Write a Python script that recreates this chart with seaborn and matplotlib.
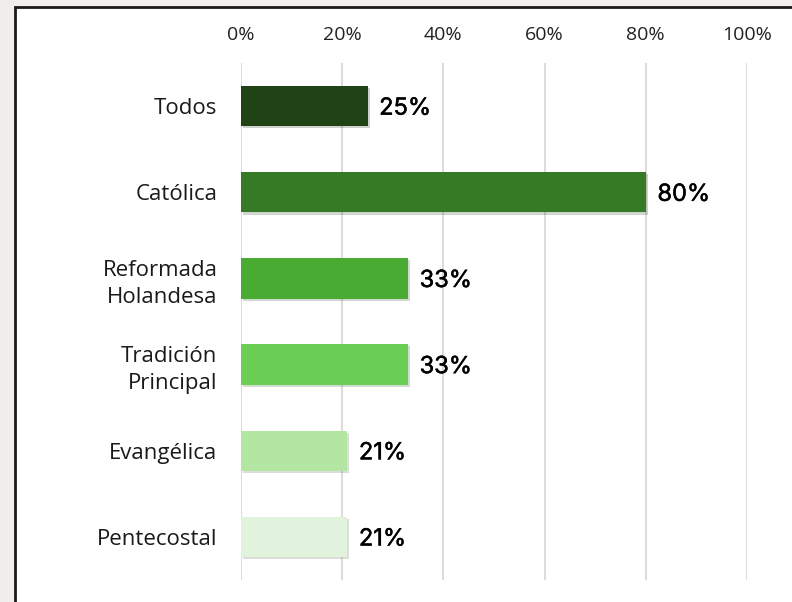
import pandas as pd
import matplotlib.pyplot as plt
import matplotlib.patheffects as pe
from matplotlib.patches import Rectangle
import seaborn as sns

# Data
categories = ["Todos", "Católica", "Reformada\nHolandesa", "Tradición\nPrincipal",
              "Evangélica", "Pentecostal"]
values = [25, 80, 33, 33, 21, 21]
value_labels = ["25%", "80%", "33%", "33%", "21%", "21%"]
bar_colors = ["#1f4314", "#377a26", "#4aab33", "#6bcf55", "#b3e5a3", "#e1f3dd"]
tick_values = [0, 20, 40, 60, 80, 100]
tick_labels = ["0%", "20%", "40%", "60%", "80%", "100%"]

df = pd.DataFrame({"grupo": categories, "pct": values})

sns.set_theme(style="white")
plt.rcParams["font.family"] = ["Open Sans", "DejaVu Sans"]

fig = plt.figure(figsize=(7.92, 6.02), dpi=100, facecolor="#efeeec")

# white panel with dark border, kept behind the axes
fig.patches.append(Rectangle((15 / 792, -0.01), 1.0, 1 - 7 / 602 + 0.01,
                             transform=fig.transFigure, facecolor="white",
                             edgecolor="#1a1a1a", linewidth=2, zorder=-10))

ax = fig.add_axes([241 / 792, 1 - 580 / 602, 506 / 792, 517 / 602])
ax.set_facecolor("none")

sns.barplot(data=df, x="pct", y="grupo", hue="grupo", palette=bar_colors,
            saturation=1, linewidth=0, orient="h", width=0.47, legend=False,
            ax=ax, zorder=3)

for bar in ax.patches:
    bar.set_path_effects([pe.SimplePatchShadow(offset=(1.5, -1.5), alpha=0.2, rho=0.4),
                          pe.Normal()])

# value labels, thickened a little with a thin stroke
for i, (v, lab) in enumerate(zip(values, value_labels)):
    ax.text(v + 2.3, i + 0.03, lab, va="center", ha="left",
            fontsize=17, color="black",
            family=["Inter", "Open Sans", "DejaVu Sans"],
            path_effects=[pe.withStroke(linewidth=0.35, foreground="black")])

ax.set_xlim(0, 100)
ax.set_ylim(5.5, -0.5)
ax.set_xticks(tick_values)
ax.set_xticklabels(tick_labels)
ax.xaxis.tick_top()
ax.tick_params(axis="x", length=0, pad=14, labelsize=14, colors="#222222")
ax.tick_params(axis="y", length=0, pad=17, labelsize=16, colors="#1a1a1a")
for t in ax.get_yticklabels():
    t.set_multialignment("right")
    t.set_linespacing(1.4)
ax.set_xlabel("")
ax.set_ylabel("")

ax.grid(axis="x", color="#dcdcdc", linewidth=1.5, zorder=0)
ax.set_axisbelow(True)
for s in ax.spines.values():
    s.set_visible(False)

fig.savefig("out.png", dpi=100, facecolor=fig.get_facecolor())
